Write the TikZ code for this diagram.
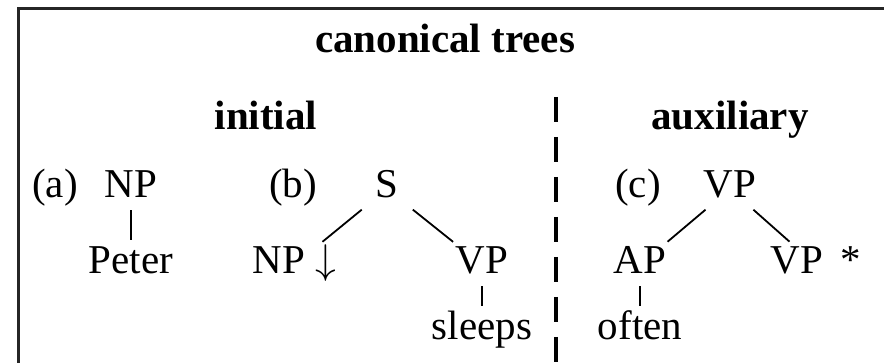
\documentclass[tikz,border=0pt]{standalone}
\usepackage{fontspec}
\setmainfont{Liberation Serif}
\usetikzlibrary{positioning}

\begin{document}
\begin{tikzpicture}[x=0.5pt, y=0.5pt,
    cat/.style={inner xsep=7pt, inner ysep=0pt, text height=14pt, text depth=5pt, anchor=base,
                font=\fontsize{20.5}{24}\selectfont},
    head/.style={anchor=base, font=\fontsize{20.5}{24}\selectfont\bfseries},
    branch/.style={line width=0.9pt, shorten <=1pt, shorten >=3pt}]
\useasboundingbox (0,0) rectangle (884,363);
\clip (0,0) rectangle (884,363);

% Outer frame
\draw[line width=1.5pt, black!85] (18,-20) rectangle (1000,354);

% Headings
\node[head] (title) at (445,310) {canonical trees};
\node[head] (initial) at (266,233) {initial};
\node[head] (aux) at (730,233) {auxiliary};

% Dashed divider between the two groups
\coordinate (divtop) at (556,266);
\coordinate (divbot) at (556,-10);
\draw[line width=2.4pt, dash pattern=on 12.5pt off 7.5pt] (divtop) -- (divbot);

% Tree labels
\foreach \x/\lab in {55/a, 293/b, 638/c} {
    \node[cat] (lbl\lab) at (\x,165) {(\lab)};
}

% (a) NP -> Peter
\node[cat] (npa) at (131,165) {NP};
\node[cat] (peter) at (131,89) {Peter};
\draw[branch] (npa) -- (peter);

% (b) S -> NP, VP -> sleeps
\node[cat] (s) at (387,165) {S};
\node[cat, anchor=base west] (npb) at (238,89) {NP $\downarrow$};
\node[cat] (vpb) at (482,89) {VP};
\node[cat] (sleeps) at (482,23) {sleeps};
\draw[branch] (s) -- (npb);
\draw[branch] (s) -- (vpb);
\draw[branch] (vpb) -- (sleeps);

% (c) VP -> AP, VP* ; AP -> often
\node[cat] (vpc) at (730,165) {VP};
\node[cat] (ap) at (640,89) {AP};
\node[cat, anchor=base west] (foot) at (756,89) {VP\hspace{9pt}*};
\node[cat] (often) at (640,23) {often};
\draw[branch] (vpc) -- (ap);
\draw[branch] (vpc) -- (foot);
\draw[branch] (ap) -- (often);
\end{tikzpicture}
\end{document}
